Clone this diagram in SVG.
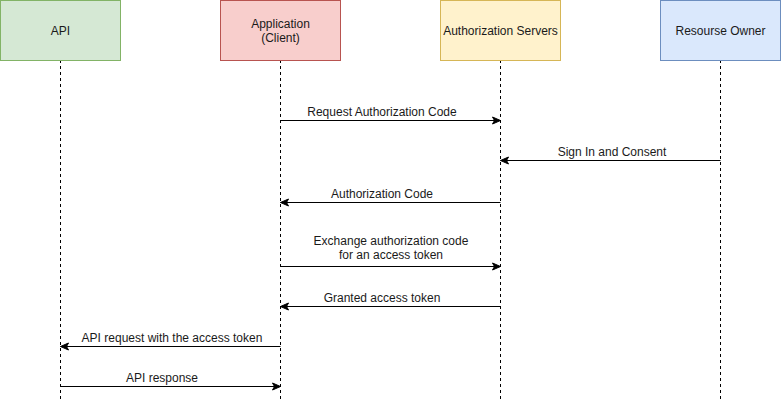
<svg xmlns="http://www.w3.org/2000/svg" width="781" height="402" viewBox="0 0 781 402">
<style>
text{font-family:"Liberation Sans",Arial,sans-serif;font-size:12px;fill:#1a1a1a;text-anchor:middle}
.life{stroke:#000;stroke-width:1;stroke-dasharray:3 3;fill:none}
.msg{stroke:#000;stroke-width:1;fill:none;marker-end:url(#ah)}
</style>
<defs>
<marker id="ah" viewBox="0 0 10 10" refX="9" refY="5" markerWidth="10" markerHeight="10" markerUnits="userSpaceOnUse" orient="auto">
<path d="M1,1.5 L9,5 L1,8.5 L3,5 Z" fill="#000" stroke="#000" stroke-width="1"/>
</marker>
</defs>
<g id="lifelines">
<line class="life" x1="60.5" y1="60" x2="60.5" y2="402"/>
<line class="life" x1="280.5" y1="60" x2="280.5" y2="402"/>
<line class="life" x1="500.5" y1="60" x2="500.5" y2="402"/>
<line class="life" x1="720.5" y1="60" x2="720.5" y2="402"/>
</g>
<g id="api">
<rect x="0.5" y="0.5" width="120" height="60" fill="#d5e8d4" stroke="#82b366"/>
<text x="60.5" y="35">API</text>
</g>
<g id="client">
<rect x="220.5" y="0.5" width="120" height="60" fill="#f8cecc" stroke="#b85450"/>
<text x="280.5" y="28">Application</text>
<text x="280.5" y="42">(Client)</text>
</g>
<g id="authserver">
<rect x="440.5" y="0.5" width="120" height="60" fill="#fff2cc" stroke="#d6b656"/>
<text x="500.5" y="35">Authorization Servers</text>
</g>
<g id="owner">
<rect x="660.5" y="0.5" width="120" height="60" fill="#dae8fc" stroke="#6c8ebf"/>
<text x="720.5" y="35">Resourse Owner</text>
</g>
<g id="connectors">
<line class="msg" x1="280.5" y1="120.5" x2="500.5" y2="120.5"/>
<text x="382" y="116">Request Authorization Code</text>
<line class="msg" x1="720.5" y1="160.5" x2="500.5" y2="160.5"/>
<text x="612" y="156">Sign In and Consent</text>
<line class="msg" x1="500.5" y1="202.5" x2="280.5" y2="202.5"/>
<text x="382" y="198">Authorization Code</text>
<line class="msg" x1="280.5" y1="266.5" x2="500.5" y2="266.5"/>
<text x="391" y="245">Exchange authorization code</text>
<text x="391" y="259">for an access token</text>
<line class="msg" x1="500.5" y1="306.5" x2="280.5" y2="306.5"/>
<text x="382" y="302">Granted access token</text>
<line class="msg" x1="280.5" y1="346.5" x2="60.5" y2="346.5"/>
<text x="172" y="342">API request with the access token</text>
<line class="msg" x1="60.5" y1="386.5" x2="280.5" y2="386.5"/>
<text x="162" y="382">API response</text>
</g>
</svg>
